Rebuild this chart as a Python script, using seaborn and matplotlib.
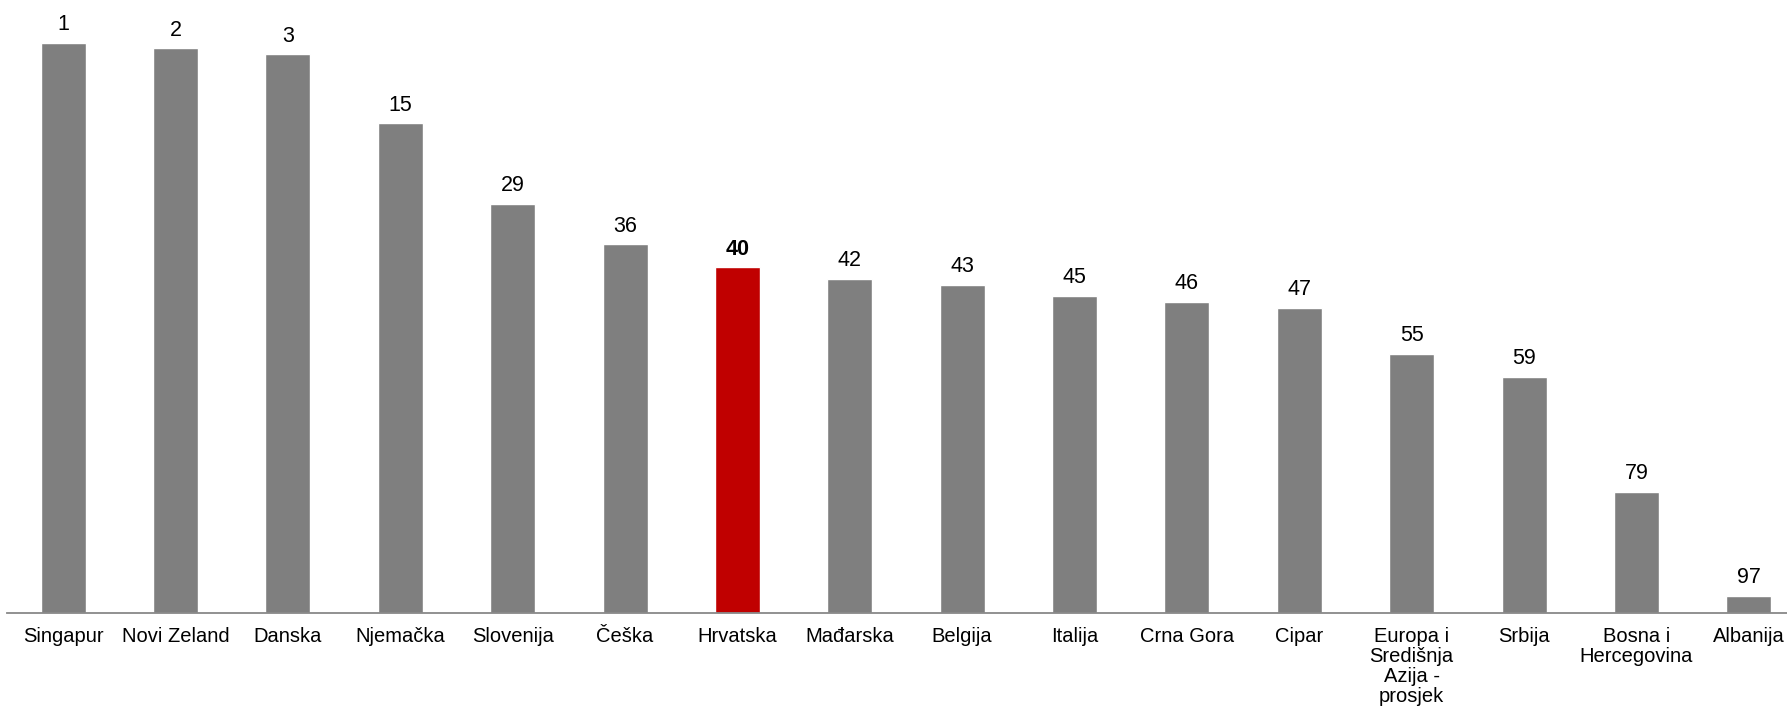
import pandas as pd
import numpy as np
import matplotlib.pyplot as plt
import seaborn as sns

sns.set_theme(style="white")
plt.rcParams['font.family'] = ['Liberation Sans', 'DejaVu Sans']

# --- Data: Doing Business rank per country ---
countries = ['Singapur', 'Novi Zeland', 'Danska', 'Njemačka', 'Slovenija', 'Češka',
             'Hrvatska', 'Mađarska', 'Belgija', 'Italija', 'Crna Gora', 'Cipar',
             'Europa i\nSredišnja\nAzija -\nprosjek', 'Srbija', 'Bosna i\nHercegovina', 'Albanija']
ranks = [1, 2, 3, 15, 29, 36, 40, 42, 43, 45, 46, 47, 55, 59, 79, 97]
highlight = 'Hrvatska'

df = pd.DataFrame({'country': countries, 'rank': ranks})
# bar height: better rank -> taller bar
df['height'] = 100 - df['rank']
colors = ['#C00000' if c == highlight else '#7F7F7F' for c in df['country']]

fig = plt.figure(figsize=(17.87, 7.14), dpi=100)
ax = fig.add_axes([7 / 1787, 101 / 714, 1780 / 1787, 613 / 714])

sns.barplot(data=df, x='country', y='height', hue='country', palette=colors,
            width=0.40, legend=False, saturation=1, ax=ax)

for i, (r, h, c) in enumerate(zip(df['rank'], df['height'], df['country'])):
    ax.annotate(str(r), (i, h), xytext=(0, 5.5), textcoords='offset points',
                ha='center', va='bottom', fontsize=15.5, color='black',
                fontweight='bold' if c == highlight else 'normal')

ax.set_xlim(-0.5, 15.34)
ax.set_ylim(0, 106.4)
ax.set_xlabel('')
ax.set_ylabel('')
ax.set_yticks([])
for s in ['top', 'right', 'left']:
    ax.spines[s].set_visible(False)
ax.spines['bottom'].set_color('#888888')
ax.spines['bottom'].set_linewidth(1.3)
ax.tick_params(axis='x', length=0, pad=10, labelsize=14.5, labelcolor='black')
for lbl in ax.get_xticklabels():
    lbl.set_linespacing(1.08)
    lbl.set_ha('center')
    lbl.set_va('top')

fig.savefig('out.png', dpi=100)
